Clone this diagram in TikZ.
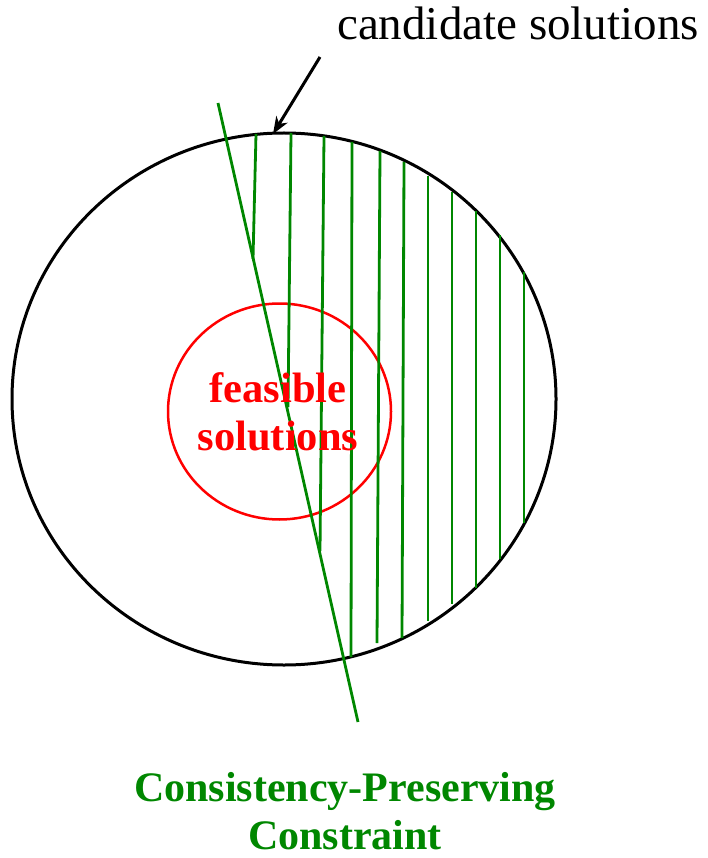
\documentclass[tikz,border=0pt]{standalone}
\usepackage{fontspec}
\setmainfont{Liberation Serif}
\usepackage{xcolor}
\usetikzlibrary{arrows.meta, positioning}
\definecolor{cgreen}{RGB}{0,135,0}

\begin{document}
\begin{tikzpicture}[x=1pt, y=-1pt]
    \useasboundingbox (0,0) rectangle (708,858);
    \draw[line width=3pt] (284,399) ellipse [x radius=272, y radius=266];
    \draw[red, line width=2.5pt] (279.5,411.5) ellipse [x radius=111.5, y radius=108];
    % hatching
    \foreach \xa/\ya/\xb/\yb in {256/134/253/259, 291/133/288/407, 324/136/320/551,
        352/142/351/657, 380/151/377/643, 404/162/402/638, 428/176/428/621,
        452/192/452/604, 476/211/476/588, 500/235/500/559, 524/272/524/523}
        \draw[cgreen, line width=2.8pt] (\xa,\ya) -- (\xb,\yb);
    \coordinate (c1) at (218,103);
    \coordinate (c2) at (358,722);
    \draw[cgreen, line width=2.8pt] (c1) -- (c2);
    \node[red, font=\bfseries\fontsize{42.5}{48}\selectfont, align=center] (feas) at (278,411.5) {feasible\\solutions};
    \node[anchor=base west, font=\fontsize{47}{50}\selectfont, inner sep=0pt] (cand) at (337,40) {candidate solutions};
    \coordinate (tail) at (320,57);
    \coordinate (tip) at (273,134);
    \draw[line width=3pt, -{Stealth[length=17pt, width=13pt, inset=5pt]}] (tail) -- (tip);
    \node[cgreen, font=\bfseries\fontsize{42}{48}\selectfont, align=center] (cons) at (345,811.5) {Consistency-Preserving\\Constraint};
\end{tikzpicture}
\end{document}
